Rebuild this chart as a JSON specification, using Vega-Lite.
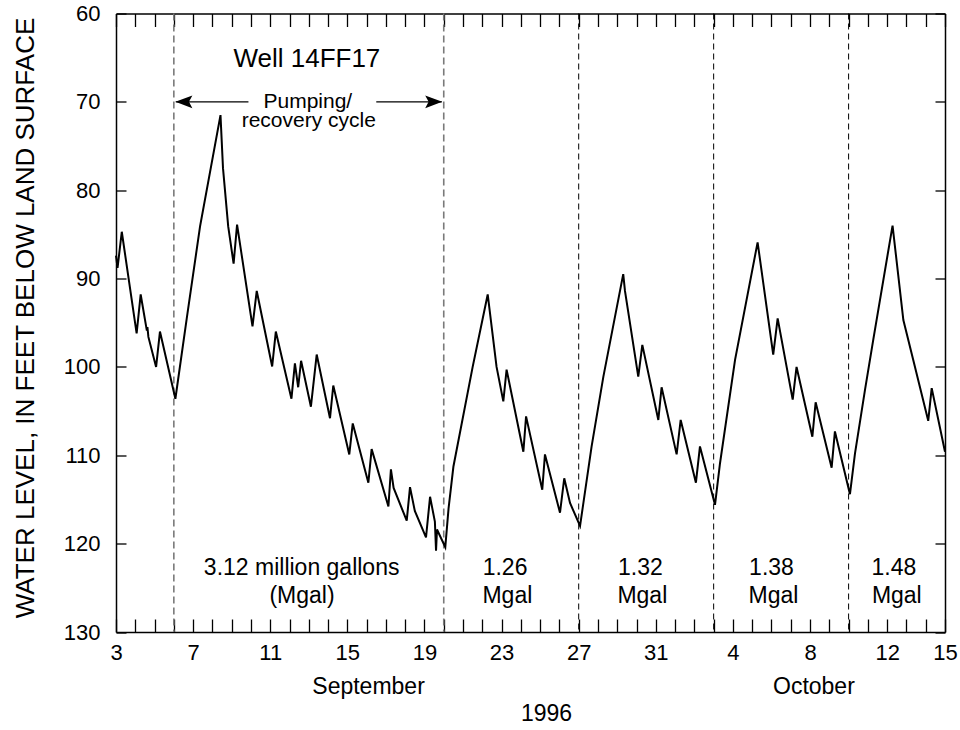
{
  "$schema": "https://vega.github.io/schema/vega-lite/v6.json",
  "width": 829,
  "height": 618.5,
  "autosize": {"type": "none"},
  "padding": {"left": 116, "top": 13.5, "right": 15, "bottom": 98},
  "background": "white",
  "config": {
    "font": "Liberation Sans",
    "view": {"stroke": null},
    "axis": {"domainColor": "black", "domainWidth": 1.5, "tickColor": "black", "tickWidth": 1.3, "labelColor": "black", "grid": false, "labelFlush": false, "labelOverlap": false, "labelFont": "Liberation Sans"}
  },
  "datasets": {
    "curve": [
      {"d": 3.0, "v": 87.4}, {"d": 3.08, "v": 88.8}, {"d": 3.3, "v": 84.7}, {"d": 4.07, "v": 96.2}, {"d": 4.28, "v": 91.8},
      {"d": 4.6, "v": 95.9}, {"d": 4.63, "v": 95.5}, {"d": 4.68, "v": 96.6}, {"d": 5.08, "v": 100.0}, {"d": 5.28, "v": 96.0},
      {"d": 6.08, "v": 103.6}, {"d": 6.67, "v": 94.5}, {"d": 7.36, "v": 84.1}, {"d": 8.42, "v": 71.5}, {"d": 8.55, "v": 77.5},
      {"d": 8.82, "v": 84.1}, {"d": 9.1, "v": 88.3}, {"d": 9.28, "v": 83.9}, {"d": 10.08, "v": 95.4}, {"d": 10.3, "v": 91.4},
      {"d": 11.1, "v": 99.95}, {"d": 11.29, "v": 96.0}, {"d": 12.1, "v": 103.6}, {"d": 12.28, "v": 99.6}, {"d": 12.45, "v": 102.3},
      {"d": 12.6, "v": 99.3}, {"d": 13.11, "v": 104.5}, {"d": 13.41, "v": 98.6}, {"d": 14.1, "v": 105.8}, {"d": 14.27, "v": 102.1},
      {"d": 15.1, "v": 109.9}, {"d": 15.28, "v": 106.4}, {"d": 16.09, "v": 113.1}, {"d": 16.26, "v": 109.3}, {"d": 17.13, "v": 115.8},
      {"d": 17.26, "v": 111.6}, {"d": 17.4, "v": 113.7}, {"d": 18.08, "v": 117.4}, {"d": 18.25, "v": 113.6}, {"d": 18.5, "v": 116.3},
      {"d": 19.08, "v": 119.3}, {"d": 19.29, "v": 114.7}, {"d": 19.54, "v": 117.5}, {"d": 19.6, "v": 120.8}, {"d": 19.65, "v": 118.4},
      {"d": 20.08, "v": 120.4}, {"d": 20.25, "v": 116.0}, {"d": 20.5, "v": 111.3}, {"d": 21.5, "v": 100.0}, {"d": 22.28, "v": 91.8},
      {"d": 22.74, "v": 100.0}, {"d": 23.09, "v": 103.9}, {"d": 23.26, "v": 100.3}, {"d": 24.13, "v": 109.6}, {"d": 24.27, "v": 105.6},
      {"d": 25.11, "v": 113.9}, {"d": 25.25, "v": 109.9}, {"d": 26.03, "v": 116.5}, {"d": 26.25, "v": 112.6}, {"d": 26.55, "v": 115.4},
      {"d": 27.07, "v": 118.0}, {"d": 27.67, "v": 109.0}, {"d": 28.28, "v": 101.1}, {"d": 29.31, "v": 89.5}, {"d": 29.4, "v": 91.4},
      {"d": 30.09, "v": 101.1}, {"d": 30.3, "v": 97.5}, {"d": 31.13, "v": 106.0}, {"d": 31.3, "v": 102.3}, {"d": 32.08, "v": 109.9},
      {"d": 32.29, "v": 106.0}, {"d": 33.08, "v": 113.1}, {"d": 33.29, "v": 109.0}, {"d": 34.07, "v": 115.6}, {"d": 34.33, "v": 110.9},
      {"d": 35.11, "v": 99.2}, {"d": 36.28, "v": 85.9}, {"d": 37.09, "v": 98.6}, {"d": 37.32, "v": 94.5}, {"d": 38.1, "v": 103.7},
      {"d": 38.3, "v": 100.0}, {"d": 39.12, "v": 107.9}, {"d": 39.29, "v": 104.0}, {"d": 40.12, "v": 111.4}, {"d": 40.29, "v": 107.3},
      {"d": 41.07, "v": 114.4}, {"d": 41.33, "v": 109.8}, {"d": 41.85, "v": 102.6}, {"d": 42.28, "v": 96.9}, {"d": 43.28, "v": 84.0},
      {"d": 43.84, "v": 94.7}, {"d": 44.35, "v": 99.2}, {"d": 45.13, "v": 106.1}, {"d": 45.31, "v": 102.4}, {"d": 46.0, "v": 109.6}
    ],
    "grayLines": [{"d": 6}, {"d": 20}],
    "blackLines": [{"d": 27}, {"d": 34}, {"d": 41}],
    "arrowLines": [{"a": 6.1, "b": 9.87, "v": 70}, {"a": 16.5, "b": 19.9, "v": 70}],
    "tipLeft": [{"d": 6.08, "v": 70}],
    "tipRight": [{"d": 19.92, "v": 70}],
    "title": [{"d": 12.9, "v": 66.02, "t": "Well 14FF17"}],
    "cycle": [{"d": 12.95, "v": 70.66, "t": "Pumping/"}, {"d": 13.0, "v": 72.81, "t": "recovery cycle"}],
    "notes": [
      {"d": 12.63, "v": 123.52, "t": "3.12 million gallons"}, {"d": 12.65, "v": 126.69, "t": "(Mgal)"},
      {"d": 23.18, "v": 123.52, "t": "1.26"}, {"d": 23.3, "v": 126.69, "t": "Mgal"},
      {"d": 30.2, "v": 123.52, "t": "1.32"}, {"d": 30.3, "v": 126.69, "t": "Mgal"},
      {"d": 37.0, "v": 123.52, "t": "1.38"}, {"d": 37.1, "v": 126.69, "t": "Mgal"},
      {"d": 43.35, "v": 123.52, "t": "1.48"}, {"d": 43.5, "v": 126.69, "t": "Mgal"},
      {"d": 16.1, "v": 136.98, "t": "September"}, {"d": 39.2, "v": 136.98, "t": "October"},
      {"d": 25.33, "v": 140.11, "t": "1996"}
    ]
  },
  "layer": [
    {
      "data": {"name": "grayLines"},
      "mark": {"type": "rule", "color": "#7a7a7a", "strokeWidth": 1.6, "strokeDash": [7, 4]},
      "encoding": {"x": {"field": "d", "type": "quantitative", "scale": {"domain": [3, 46], "nice": false, "zero": false}, "axis": null}}
    },
    {
      "data": {"name": "blackLines"},
      "mark": {"type": "rule", "color": "black", "strokeWidth": 1, "strokeDash": [6, 4]},
      "encoding": {"x": {"field": "d", "type": "quantitative", "scale": {"domain": [3, 46], "nice": false, "zero": false}, "axis": null}}
    },
    {
      "data": {"name": "curve"},
      "mark": {"type": "line", "color": "black", "strokeWidth": 2, "strokeJoin": "miter"},
      "encoding": {
        "x": {"field": "d", "type": "quantitative", "scale": {"domain": [3, 46], "nice": false, "zero": false},
          "axis": {"orient": "bottom", "title": null, "values": [3,4,5,6,7,8,9,10,11,12,13,14,15,16,17,18,19,20,21,22,23,24,25,26,27,28,29,30,31,32,33,34,35,36,37,38,39,40,41,42,43,44,45,46],
            "tickSize": -13, "labelPadding": 23, "labelFontSize": 22, "labelBaseline": "top",
            "labelExpr": "datum.value == 46 ? '15' : ((datum.value - 3) % 4 == 0 ? (datum.value > 31 ? '' + (datum.value - 31) : '' + datum.value) : '')"}},
        "y": {"field": "v", "type": "quantitative", "scale": {"domain": [60, 130], "reverse": true, "nice": false, "zero": false},
          "axis": {"orient": "left", "values": [60,70,80,90,100,110,120,130], "tickSize": -10, "labelPadding": 26, "labelFontSize": 22,
            "title": "WATER LEVEL, IN FEET BELOW LAND SURFACE", "titleFontSize": 26, "titleFontWeight": "normal", "titleColor": "black",
            "titleFont": "Liberation Sans", "titleAngle": -90, "titleAlign": "center", "titleBaseline": "alphabetic", "titleX": -83, "titleY": 304}}
      }
    },
    {
      "data": {"name": "arrowLines"},
      "mark": {"type": "rule", "color": "black", "strokeWidth": 1.3},
      "encoding": {
        "x": {"field": "a", "type": "quantitative", "scale": {"domain": [3, 46], "nice": false, "zero": false}, "axis": null},
        "x2": {"field": "b"},
        "y": {"field": "v", "type": "quantitative", "scale": {"domain": [60, 130], "reverse": true, "nice": false, "zero": false}, "axis": null}
      }
    },
    {
      "data": {"name": "tipLeft"},
      "mark": {"type": "point", "shape": "M0,0L2,-0.75L1.6,0L2,0.75Z", "size": 289, "filled": true, "color": "black", "opacity": 1, "strokeWidth": 0},
      "encoding": {
        "x": {"field": "d", "type": "quantitative", "scale": {"domain": [3, 46], "nice": false, "zero": false}, "axis": null},
        "y": {"field": "v", "type": "quantitative", "scale": {"domain": [60, 130], "reverse": true, "nice": false, "zero": false}, "axis": null}
      }
    },
    {
      "data": {"name": "tipRight"},
      "mark": {"type": "point", "shape": "M0,0L-2,-0.75L-1.6,0L-2,0.75Z", "size": 289, "filled": true, "color": "black", "opacity": 1, "strokeWidth": 0},
      "encoding": {
        "x": {"field": "d", "type": "quantitative", "scale": {"domain": [3, 46], "nice": false, "zero": false}, "axis": null},
        "y": {"field": "v", "type": "quantitative", "scale": {"domain": [60, 130], "reverse": true, "nice": false, "zero": false}, "axis": null}
      }
    },
    {
      "data": {"name": "cycle"},
      "mark": {"type": "text", "fontSize": 21, "color": "black", "align": "center", "baseline": "alphabetic", "font": "Liberation Sans"},
      "encoding": {
        "x": {"field": "d", "type": "quantitative", "scale": {"domain": [3, 46], "nice": false, "zero": false}, "axis": null},
        "y": {"field": "v", "type": "quantitative", "scale": {"domain": [60, 130], "reverse": true, "nice": false, "zero": false}, "axis": null},
        "text": {"field": "t"}
      }
    },
    {
      "data": {"name": "notes"},
      "mark": {"type": "text", "fontSize": 23, "color": "black", "align": "center", "baseline": "alphabetic", "font": "Liberation Sans"},
      "encoding": {
        "x": {"field": "d", "type": "quantitative", "scale": {"domain": [3, 46], "nice": false, "zero": false}, "axis": null},
        "y": {"field": "v", "type": "quantitative", "scale": {"domain": [60, 130], "reverse": true, "nice": false, "zero": false}, "axis": null},
        "text": {"field": "t"}
      }
    },
    {
      "data": {"name": "title"},
      "mark": {"type": "text", "fontSize": 26, "color": "black", "align": "center", "baseline": "alphabetic", "font": "Liberation Sans"},
      "encoding": {
        "x": {"field": "d", "type": "quantitative", "scale": {"domain": [3, 46], "nice": false, "zero": false},
          "axis": {"orient": "top", "title": null, "labels": false, "values": [3,4,5,6,7,8,9,10,11,12,13,14,15,16,17,18,19,20,21,22,23,24,25,26,27,28,29,30,31,32,33,34,35,36,37,38,39,40,41,42,43,44,45,46], "tickSize": -13}},
        "y": {"field": "v", "type": "quantitative", "scale": {"domain": [60, 130], "reverse": true, "nice": false, "zero": false},
          "axis": {"orient": "right", "title": null, "labels": false, "values": [60,70,80,90,100,110,120,130], "tickSize": -10}},
        "text": {"field": "t"}
      }
    }
  ]
}
